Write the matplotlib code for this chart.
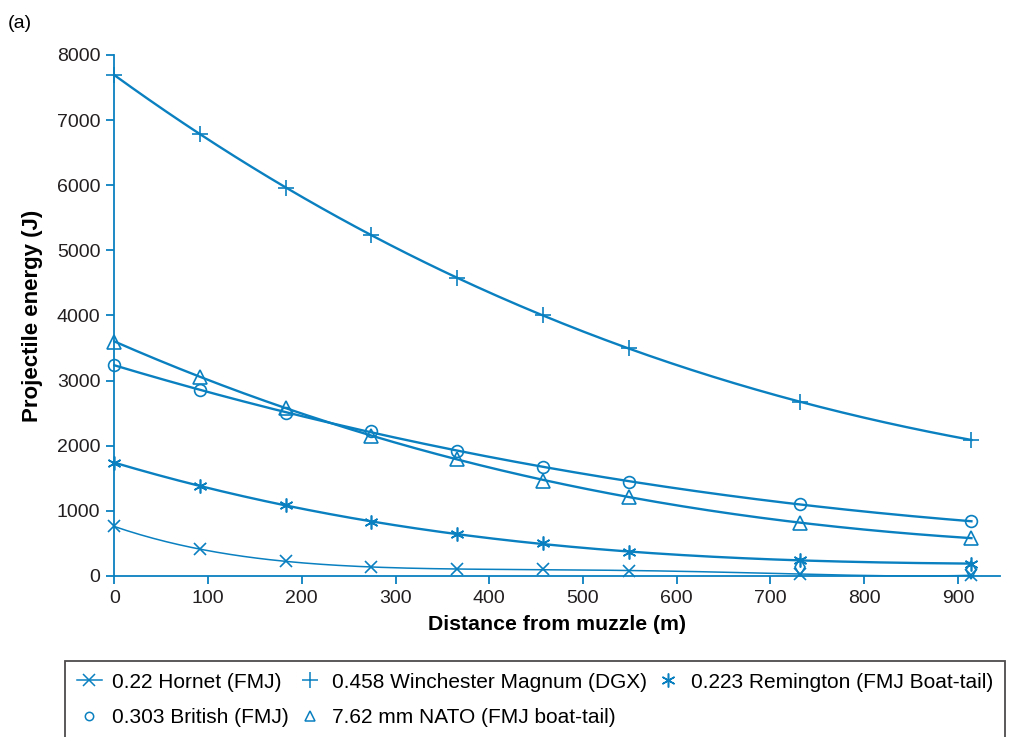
import numpy as np
import matplotlib.pyplot as plt
from matplotlib.lines import Line2D

plt.rcParams['font.family'] = ['Liberation Sans', 'DejaVu Sans']

# distances (m) - 0..1000 yd steps
distance = [0, 91.4, 182.9, 274.3, 365.8, 457.2, 548.6, 731.5, 914.4]

hornet = [760, 410, 230, 130, 110, 100, 80, 30, 10]
winchester = [7690, 6790, 5960, 5230, 4580, 4000, 3500, 2670, 2090]
remington = [1740, 1380, 1090, 830, 640, 500, 370, 240, 190]
british = [3240, 2850, 2510, 2220, 1920, 1680, 1450, 1100, 840]
nato = [3600, 3060, 2580, 2150, 1800, 1460, 1220, 820, 580]

# odd diamond marks near the axis
extra_x = [731.5, 914.4]
extra_y = [140, 95]

labels = ["0.22 Hornet (FMJ)", "0.458 Winchester Magnum (DGX)",
          "0.223 Remington (FMJ Boat-tail)", "0.303 British (FMJ)",
          "7.62 mm NATO (FMJ boat-tail)"]

blue = '#0a80c0'
asterisk = (6, 2, 0)

fig = plt.figure(figsize=(10.1, 7.37), dpi=100)
ax = fig.add_axes([0.1132, 0.2185, 0.877, 0.7069])

xs = np.linspace(0, 914.4, 200)

def trend(y, deg=3):
    coef = np.polyfit(distance, y, deg)
    return np.polyval(coef, xs)

series = [
    (hornet, 'x', 9, 1.1, 4),
    (winchester, '+', 12, 1.7, 3),
    (remington, asterisk, 10, 1.7, 3),
    (british, 'o', 8.5, 1.7, 3),
    (nato, '^', 10, 1.7, 3),
]
for y, m, ms, lw, deg in series:
    ax.plot(xs, trend(y, deg), color=blue, lw=lw, clip_on=False)
    ax.plot(distance, y, ls='none', marker=m, ms=ms, mfc='none',
            mec=blue, mew=1.2, clip_on=False)
ax.plot(extra_x, extra_y, ls='none', marker='d', ms=9, mfc='none',
        mec=blue, mew=1.2, clip_on=False)

ax.set_xlim(0, 945)
ax.set_ylim(0, 8000)
ax.set_xticks(range(0, 1000, 100))
ax.set_yticks(range(0, 8001, 1000))
for s in ['top', 'right']:
    ax.spines[s].set_visible(False)
for s in ['left', 'bottom']:
    ax.spines[s].set_color(blue)
    ax.spines[s].set_linewidth(1.3)
ax.tick_params(colors=blue, labelcolor='#231f20', length=6, width=1.3,
               labelsize=14, pad=4)

ax.set_xlabel("Distance from muzzle (m)", fontsize=15.3, fontweight='bold',
              labelpad=6)
ax.set_ylabel("Projectile energy (J)", fontsize=16, fontweight='bold',
              labelpad=10)
fig.text(0.008, 0.98, "(a)", fontsize=14, va='top')

# legend, column-major order so rows come out as in the figure
mk = dict(color=blue, mfc='none', mew=1.1)
handles = [
    Line2D([], [], marker='x', ms=8, lw=1.1, **mk),
    Line2D([], [], marker='o', ms=6, ls='none', **mk),
    Line2D([], [], marker='+', ms=11, ls='none', **mk),
    Line2D([], [], marker='^', ms=7, ls='none', **mk),
    Line2D([], [], marker=asterisk, ms=10, ls='none', **mk),
]
order = [labels[0], labels[3], labels[1], labels[4], labels[2]]
leg = fig.legend(handles, order, ncol=3, loc='upper left',
                 bbox_to_anchor=(0.0644, 0.103), fontsize=15,
                 frameon=True, fancybox=False, handlelength=1.2,
                 handletextpad=0.5, columnspacing=0.4, labelspacing=0.8,
                 borderpad=0.55, borderaxespad=0)
leg.get_frame().set_edgecolor('#231f20')
leg.get_frame().set_linewidth(1.3)

fig.savefig('out.png', dpi=100)
